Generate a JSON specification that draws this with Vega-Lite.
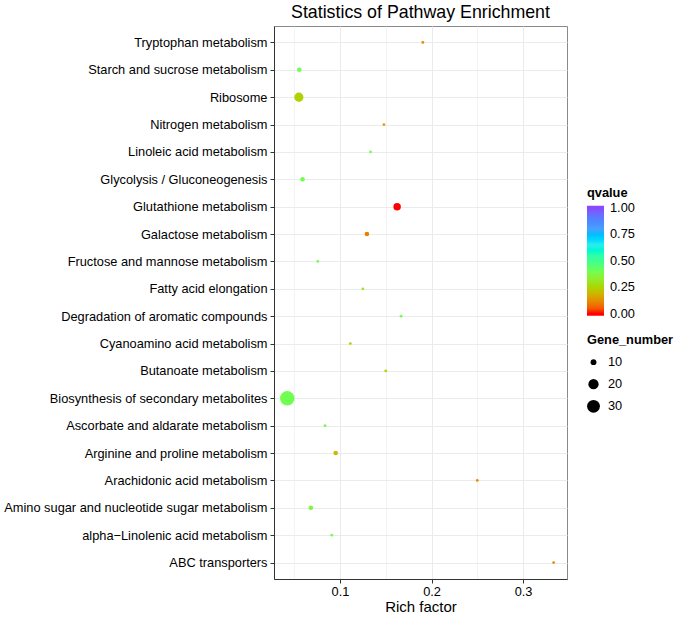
{
  "$schema": "https://vega.github.io/schema/vega-lite/v6.json",
  "width": 293,
  "height": 553,
  "background": "white",
  "padding": {"left": 3, "top": 4, "right": 5, "bottom": 5},
  "title": {"text": "Statistics of Pathway Enrichment", "font": "Liberation Sans", "fontSize": 17.8, "fontWeight": "normal", "color": "black", "anchor": "middle", "offset": 4},
  "config": {
    "view": {"stroke": "#8a8a8a", "strokeWidth": 1},
    "axis": {"labelFont": "Liberation Sans", "titleFont": "Liberation Sans", "labelColor": "black", "titleColor": "black", "domainColor": "#333333", "tickColor": "#333333", "gridColor": "#EBEBEB", "labelLimit": 0},
    "legend": {"titleFont": "Liberation Sans", "labelFont": "Liberation Sans", "titleFontSize": 12.8, "labelFontSize": 12.8, "titleFontWeight": "bold", "titleColor": "black", "labelColor": "black"}
  },
  "data": {
    "values": [
      {"pathway": "Tryptophan metabolism", "rich_factor": 0.1905, "qvalue": 0.12, "gene_number": 8},
      {"pathway": "Starch and sucrose metabolism", "rich_factor": 0.0555, "qvalue": 0.4, "gene_number": 9},
      {"pathway": "Ribosome", "rich_factor": 0.0551, "qvalue": 0.24, "gene_number": 17},
      {"pathway": "Nitrogen metabolism", "rich_factor": 0.148, "qvalue": 0.16, "gene_number": 8},
      {"pathway": "Linoleic acid metabolism", "rich_factor": 0.1334, "qvalue": 0.4, "gene_number": 8},
      {"pathway": "Glycolysis / Gluconeogenesis", "rich_factor": 0.0591, "qvalue": 0.4, "gene_number": 9},
      {"pathway": "Glutathione metabolism", "rich_factor": 0.1624, "qvalue": 0.0, "gene_number": 13},
      {"pathway": "Galactose metabolism", "rich_factor": 0.1294, "qvalue": 0.1, "gene_number": 9},
      {"pathway": "Fructose and mannose metabolism", "rich_factor": 0.0758, "qvalue": 0.4, "gene_number": 8},
      {"pathway": "Fatty acid elongation", "rich_factor": 0.125, "qvalue": 0.3, "gene_number": 8},
      {"pathway": "Degradation of aromatic compounds", "rich_factor": 0.1667, "qvalue": 0.4, "gene_number": 8},
      {"pathway": "Cyanoamino acid metabolism", "rich_factor": 0.1113, "qvalue": 0.26, "gene_number": 8},
      {"pathway": "Butanoate metabolism", "rich_factor": 0.15, "qvalue": 0.26, "gene_number": 8},
      {"pathway": "Biosynthesis of secondary metabolites", "rich_factor": 0.0424, "qvalue": 0.4, "gene_number": 38},
      {"pathway": "Ascorbate and aldarate metabolism", "rich_factor": 0.0837, "qvalue": 0.4, "gene_number": 8},
      {"pathway": "Arginine and proline metabolism", "rich_factor": 0.0953, "qvalue": 0.2, "gene_number": 9},
      {"pathway": "Arachidonic acid metabolism", "rich_factor": 0.25, "qvalue": 0.13, "gene_number": 8},
      {"pathway": "Amino sugar and nucleotide sugar metabolism", "rich_factor": 0.0682, "qvalue": 0.36, "gene_number": 9},
      {"pathway": "alpha−Linolenic acid metabolism", "rich_factor": 0.091, "qvalue": 0.4, "gene_number": 8},
      {"pathway": "ABC transporters", "rich_factor": 0.3334, "qvalue": 0.13, "gene_number": 8}
    ]
  },
  "mark": {"type": "circle", "opacity": 1},
  "encoding": {
    "x": {
      "field": "rich_factor", "type": "quantitative", "title": "Rich factor",
      "scale": {"domain": [0.0279, 0.348], "nice": false, "zero": false},
      "axis": {
        "values": [0.05, 0.1, 0.15, 0.2, 0.25, 0.3],
        "format": ".1f",
        "labelExpr": "abs(datum.value*10 - round(datum.value*10)) < 0.001 ? datum.label : ''",
        "tickOpacity": {"condition": {"test": "abs(datum.value*10 - round(datum.value*10)) < 0.001", "value": 1}, "value": 0},
        "gridWidth": {"condition": {"test": "abs(datum.value*10 - round(datum.value*10)) < 0.001", "value": 1}, "value": 0.6},
        "labelFontSize": 12.8, "titleFontSize": 15, "titleFontWeight": "normal",
        "tickSize": 4, "labelPadding": 2, "titlePadding": 2, "domain": true
      }
    },
    "y": {
      "field": "pathway", "type": "nominal",
      "sort": ["Tryptophan metabolism", "Starch and sucrose metabolism", "Ribosome", "Nitrogen metabolism", "Linoleic acid metabolism", "Glycolysis / Gluconeogenesis", "Glutathione metabolism", "Galactose metabolism", "Fructose and mannose metabolism", "Fatty acid elongation", "Degradation of aromatic compounds", "Cyanoamino acid metabolism", "Butanoate metabolism", "Biosynthesis of secondary metabolites", "Ascorbate and aldarate metabolism", "Arginine and proline metabolism", "Arachidonic acid metabolism", "Amino sugar and nucleotide sugar metabolism", "alpha−Linolenic acid metabolism", "ABC transporters"],
      "scale": {"type": "point", "padding": 0.6},
      "axis": {"title": null, "labelFontSize": 12.8, "tickSize": 4, "labelPadding": 3, "grid": true, "gridWidth": 1, "domain": true}
    },
    "color": {
      "field": "qvalue", "type": "quantitative", "title": "qvalue",
      "scale": {"domain": [-0.02, 0, 0.12, 0.25, 0.4, 0.55, 0.65, 0.8, 1, 1.02], "range": ["#FF0000", "#FF0000", "#E68A00", "#ABD600", "#70FF50", "#2CFFAA", "#2AEEEE", "#4AA0FF", "#8A48FF", "#8A48FF"]},
      "legend": {"orient": "none", "legendX": 313, "legendY": 161, "values": [0, 0.25, 0.5, 0.75, 1], "format": ".2f", "gradientLength": 110, "gradientThickness": 17, "gradientStrokeWidth": 0, "direction": "vertical", "labelOffset": 6, "titlePadding": 6}
    },
    "size": {
      "field": "gene_number", "type": "quantitative", "title": "Gene_number",
      "scale": {"domain": [8, 10, 20, 30, 38], "range": [8, 34, 105, 165, 210], "zero": false, "nice": false},
      "legend": {"orient": "none", "legendX": 313, "legendY": 308, "values": [10, 20, 30], "symbolFillColor": "black", "symbolStrokeColor": "black", "symbolStrokeWidth": 0, "symbolOpacity": 1, "rowPadding": 8, "labelOffset": 8, "titlePadding": 9}
    }
  }
}
